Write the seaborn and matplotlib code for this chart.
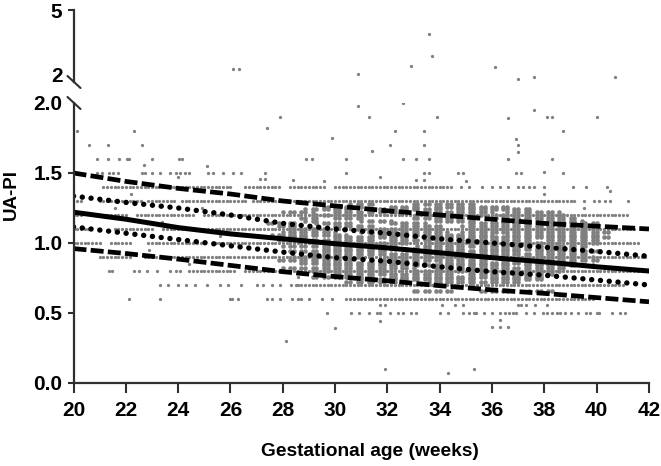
import matplotlib
matplotlib.use("Agg")
import numpy as np
import pandas as pd
import seaborn as sns
import matplotlib.pyplot as plt

sns.set_style("white")
plt.rcParams["font.family"] = ["Liberation Sans", "DejaVu Sans"]

# Fitted umbilical artery PI centiles at each even gestational week
weeks = [20, 22, 24, 26, 28, 30, 32, 34, 36, 38, 40, 42]
p5 = [0.96, 0.925, 0.885, 0.84, 0.795, 0.76, 0.73, 0.695, 0.665, 0.64, 0.61, 0.58]
p25 = [1.115, 1.07, 1.025, 0.98, 0.935, 0.895, 0.87, 0.83, 0.795, 0.77, 0.735, 0.70]
p50 = [1.22, 1.17, 1.11, 1.065, 1.03, 0.995, 0.965, 0.93, 0.895, 0.865, 0.83, 0.80]
p75 = [1.335, 1.29, 1.25, 1.20, 1.14, 1.10, 1.07, 1.03, 1.00, 0.97, 0.94, 0.905]
p95 = [1.50, 1.44, 1.39, 1.35, 1.30, 1.265, 1.23, 1.20, 1.17, 1.14, 1.12, 1.10]

# Very high PI readings, shown on the compressed upper scale
high_weeks = [26.11, 26.32, 30.88, 33.6, 33.7, 32.9, 36.1, 37.0, 37.6, 40.7]
high_pi = [2.53, 2.53, 2.32, 4.0, 3.1, 2.68, 2.61, 2.11, 2.21, 2.21]

# Individual readings outside the main cloud
stray_weeks = [
    30.88, 27.9, 27.4, 20.12, 22.3, 29.9, 20.6, 21.33, 22.6, 22.7, 25.1,
    32.6, 31.31, 33.9, 36.6, 37.6, 38.1, 38.3, 40.0, 32.3, 33.4, 38.7, 36.9, 37.0,
    37.0, 32.1, 33.4, 31.4, 38.0, 24.0, 27.13, 27.32, 28.39, 29.58, 31.7, 33.1,
    33.4, 35.0, 28.11, 30.0, 31.9, 34.3, 35.3, 31.7, 36.3, 36.0, 36.3, 36.6,
    38.0, 40.5, 37.0, 31.7, 31.9, 34.1, 34.6, 34.9, 37.1, 37.3, 37.65, 38.1,
    28.6, 39.5, 26.3, 22.2, 24.9, 21.6, 23.4, 25.6, 22.9, 24.4,
]
stray_pi = [
    1.98, 1.9, 1.82, 1.8, 1.8, 1.75, 1.7, 1.7, 1.7, 1.56, 1.55,
    2.0, 1.9, 1.9, 1.89, 1.95, 1.9, 1.9, 1.9, 1.8, 1.8, 1.8, 1.74, 1.7,
    1.65, 1.7, 1.7, 1.66, 1.51, 1.47, 1.46, 1.46, 1.45, 1.44, 1.47, 1.45,
    1.45, 1.44, 0.30, 0.39, 0.10, 0.07, 0.10, 0.44, 0.45, 0.40, 0.40, 0.40,
    1.35, 1.37, 0.56, 0.56, 0.56, 0.56, 0.56, 0.56, 0.56, 0.56, 0.56, 0.56,
    0.76, 1.25, 1.35, 1.35, 1.25, 1.25, 1.15, 1.05, 0.95, 0.85,
]

# Readings recorded on the coarse 0.1 grid, listed where they stand alone
row_16 = [20.9, 21.33, 21.73, 22.03, 22.12, 23.0, 24.03, 24.14, 28.9, 29.1, 30.4,
          32.6, 33.1, 33.6, 36.6, 38.3]
row_15 = [20.9, 21.08, 21.36, 21.52, 21.7, 22.6, 22.73, 23.0, 23.3, 23.7, 23.9, 24.07,
          24.27, 24.43, 25.13, 25.32, 25.73, 26.11, 26.4, 27.32, 30.4, 33.4, 33.6,
          34.7, 34.9, 36.9, 37.1, 38.7]
row_14 = [34.8, 35.1, 35.6, 36.0, 36.3, 36.6, 37.0, 37.2, 37.4, 37.6, 38.0, 39.1, 39.6, 40.4]
row_13 = [39.5, 39.9, 40.1, 40.3, 40.5, 41.2]
row_08 = [21.36, 21.47, 22.3, 22.5, 22.8, 23.2, 23.7, 23.9, 24.07, 24.4]
row_07 = [23.3, 23.6, 24.0, 24.3, 24.65, 25.1, 25.6, 25.9, 26.4, 27.0, 27.25, 27.6,
          27.9, 28.3, 28.5]
row_06 = [22.12, 23.3, 25.98, 26.06, 26.3, 27.4, 27.6, 27.9, 28.35, 28.6, 28.7, 29.0, 29.5, 29.9]
row_05 = [29.7, 30.6, 30.9, 31.3, 31.6, 31.7, 32.1, 32.4, 32.6, 32.9, 33.1, 34.0, 34.3,
          34.9, 35.1, 35.3, 35.4, 35.7, 36.0, 36.3, 36.5, 36.65, 36.8, 36.9, 37.3, 37.6,
          37.95, 38.1, 38.3, 38.5, 38.6, 38.8, 39.0, 39.3, 39.6, 39.74, 40.0, 40.1,
          40.6, 40.9, 41.1]
single_levels = [1.6, 1.5, 1.4, 1.3, 0.8, 0.7, 0.6, 0.5]
single_rows = [row_16, row_15, row_14, row_13, row_08, row_07, row_06, row_05]

# Week ranges with a reading on every day, per 0.1 level
grid_levels = [1.4, 1.3, 1.2, 1.1, 1.0, 0.9, 0.8, 0.7, 0.6]
grid_spans = [
    [(21.2, 22.1), (22.3, 23.5), (23.7, 25.3), (25.5, 26.0), (26.6, 27.9), (28.3, 29.6), (30.0, 34.4)],
    [(20.1, 20.3), (21.0, 22.5), (22.8, 23.9), (24.2, 26.6), (26.9, 39.2)],
    [(20.0, 20.3), (21.3, 22.0), (22.4, 24.6), (25.0, 41.2)],
    [(20.0, 20.5), (21.6, 23.0), (23.4, 25.8), (26.0, 41.5)],
    [(20.0, 21.0), (21.4, 22.2), (22.8, 25.0), (25.4, 41.6)],
    [(21.0, 22.2), (22.7, 23.2), (23.5, 41.9)],
    [(24.6, 26.2), (26.5, 41.8)],
    [(28.6, 41.0)],
    [(30.4, 39.8)],
]

# Denser readings in the centre of the cloud, by finer PI level
core_levels = [
    1.28, 1.26, 1.24, 1.22, 1.20, 1.18, 1.16, 1.14, 1.12, 1.10, 1.08, 1.06, 1.04, 1.02, 1.00,
    0.98, 0.96, 0.94, 0.92, 0.90, 0.88, 0.86, 0.84, 0.82, 0.80, 0.78, 0.76, 0.74, 0.72, 0.66,
]
core_spans = [
    [(30.5, 31.5), (33.0, 35.5)],
    [(29.5, 31.0), (32.0, 33.2), (33.8, 36.5)],
    [(28.8, 30.5), (31.2, 34.0), (34.6, 37.6)],
    [(28.0, 29.2), (30.0, 32.6), (33.5, 36.0), (36.5, 38.6)],
    [(29.0, 31.2), (33.2, 35.6), (36.2, 38.8)],
    [(28.5, 29.5), (30.0, 31.0), (33.0, 35.0), (35.8, 39.2)],
    [(28.9, 29.4), (31.0, 32.2), (33.9, 35.4), (36.4, 39.4)],
    [(27.5, 28.4), (29.3, 30.5), (32.0, 33.5), (35.0, 40.0)],
    [(27.8, 28.6), (29.8, 31.5), (32.4, 34.0), (34.8, 40.2)],
    [(28.2, 29.6), (30.8, 34.0), (35.2, 39.8)],
    [(28.0, 30.0), (31.0, 34.3), (34.9, 40.4)],
    [(27.6, 30.4), (31.4, 36.0), (36.6, 40.2)],
    [(28.2, 29.0), (29.8, 33.0), (33.6, 40.4)],
    [(27.8, 31.5), (32.2, 37.5), (38.0, 40.0)],
    [(29.0, 32.8), (33.6, 38.6), (39.0, 40.0)],
    [(28.0, 32.4), (33.2, 39.6)],
    [(29.5, 35.0), (35.6, 39.4)],
    [(28.2, 32.0), (33.0, 37.0), (37.6, 40.0)],
    [(29.0, 34.0), (34.5, 39.6)],
    [(28.4, 31.0), (32.0, 36.4), (37.0, 39.8)],
    [(27.9, 30.5), (31.4, 35.8), (36.4, 40.0)],
    [(28.6, 33.4), (34.0, 39.2)],
    [(29.5, 36.6), (37.2, 39.8)],
    [(28.0, 33.0), (33.8, 38.8)],
    [(29.2, 32.2), (33.0, 38.6)],
    [(30.0, 34.6), (35.2, 38.4)],
    [(29.2, 31.4), (32.2, 38.0)],
    [(31.0, 35.4), (36.0, 38.0)],
    [(30.4, 32.8), (33.6, 37.0)],
    [(33.0, 34.4), (35.6, 36.6), (37.4, 38.4)],
]


def span_days(span):
    """Whole days since week 20 covered by a (first week, last week) range."""
    first, last = span
    return np.arange(round((first - 20) * 7), round((last - 20) * 7) + 1)


rows = [pd.DataFrame({"week": stray_weeks, "pi": stray_pi})]
for level, row in zip(single_levels, single_rows):
    rows.append(pd.DataFrame({"week": row, "pi": level}))
for level, spans in zip(grid_levels, grid_spans):
    for span in spans:
        rows.append(pd.DataFrame({"week": 20 + span_days(span) / 7, "pi": level}))
cloud = pd.concat(rows, ignore_index=True)

core_rows = []
for level, spans in zip(core_levels, core_spans):
    for span in spans:
        days = span_days(span)
        core_rows.append(pd.DataFrame({"week": 20 + days[days % 3 != 0] / 7, "pi": level}))
core = pd.concat(core_rows, ignore_index=True)

W, H = 661, 466
fig = plt.figure(figsize=(W / 100, H / 100), dpi=100)
left, right = 73.5, 649
ax = fig.add_axes([left / W, (H - 383) / H, (right - left) / W, 280 / H])
top = fig.add_axes([left / W, (H - 82) / H, (right - left) / W, 72 / H])

ink = "#2f2f2f"
point_style = dict(s=5.5, color="#808080", linewidth=0, legend=False)
sns.scatterplot(data=core, x="week", y="pi", ax=ax, s=11, color="#808080", linewidth=0, legend=False)
sns.scatterplot(data=cloud, x="week", y="pi", ax=ax, **point_style)
sns.scatterplot(x=high_weeks, y=high_pi, ax=top, **point_style)

dashed = dict(color="black", linewidth=3.4, linestyle=(0, (2.75, 0.9)))
dotted = dict(color="black", linewidth=3.9, linestyle=(0, (0.01, 1.62)))
sns.lineplot(x=weeks, y=p5, ax=ax, **dashed)
sns.lineplot(x=weeks, y=p25, ax=ax, **dotted)
ax.get_lines()[-1].set_dash_capstyle("round")
sns.lineplot(x=weeks, y=p50, ax=ax, color="black", linewidth=3.6)
sns.lineplot(x=weeks, y=p75, ax=ax, **dotted)
ax.get_lines()[-1].set_dash_capstyle("round")
sns.lineplot(x=weeks, y=p95, ax=ax, **dashed)

ax.set_xlim(20, 42)
ax.set_ylim(0, 2)
top.set_xlim(20, 42)
top.set_ylim(2, 5)

label_font = dict(fontsize=15, fontweight="bold", color="black")
ax.set_xticks(range(20, 43, 2))
ax.set_xticklabels([str(v) for v in range(20, 43, 2)], **label_font)
ax.set_yticks([0, 0.5, 1.0, 1.5, 2.0])
ax.set_yticklabels(["0.0", "0.5", "1.0", "1.5", "2.0"], **label_font, va="center_baseline")
ax.tick_params(axis="x", length=7, width=1.5, color=ink, pad=6, bottom=True)
ax.tick_params(axis="y", length=4, width=1.5, color=ink, pad=4, left=True)
ax.yaxis.get_major_ticks()[-1].tick1line.set_visible(False)

top.set_xticks([])
top.set_yticks([2, 5])
top.set_yticklabels(["2", "5"], **label_font, va="center_baseline")
top.tick_params(axis="y", length=4, width=1.5, color=ink, pad=4, left=True)
top.yaxis.get_major_ticks()[0].tick1line.set_visible(False)
top.get_yticklabels()[0].set_verticalalignment("baseline")

for axis in (ax, top):
    sns.despine(ax=axis, top=True, right=True, bottom=axis is top)
    axis.spines["left"].set_linewidth(1.6)
    axis.spines["left"].set_color(ink)
    axis.set_xlabel("")
    axis.set_ylabel("")
    axis.patch.set_alpha(0)
ax.spines["bottom"].set_linewidth(1.6)
ax.spines["bottom"].set_color(ink)

# Slanted marks on the broken y axis
for axis, height in ((ax, 280), (top, 72)):
    y_centre = 1.0 if axis is ax else 0.0
    axis.plot([-6 / (right - left), 7 / (right - left)],
              [y_centre + 6 / height, y_centre - 6 / height],
              transform=axis.transAxes, color=ink, linewidth=1.5, clip_on=False)

fig.text(370 / W, 1 - 452 / H, "Gestational age (weeks)", ha="center", va="center",
         fontsize=13.8, fontweight="bold", color="black")
fig.text(11 / W, 1 - 195 / H, "UA-PI", ha="center", va="center", rotation=90,
         fontsize=13.5, fontweight="bold", color="black")

fig.savefig("out.png", dpi=100)
